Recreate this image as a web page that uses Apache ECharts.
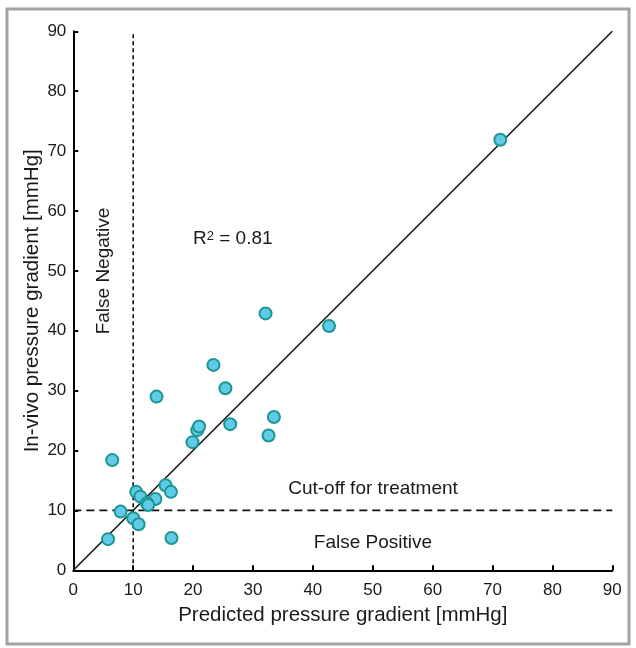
<!DOCTYPE html>
<html>
<head>
<meta charset="utf-8">
<script src="https://cdn.jsdelivr.net/npm/echarts@6/dist/echarts.min.js"></script>
<style>
  html, body { margin: 0; padding: 0; background: #fff; }
  #chart { width: 636px; height: 648px; }
</style>
</head>
<body>
<div id="chart"></div>
<script>
const predicted = [5.8, 7.9, 10.0, 10.9, 16.4, 10.5, 11.2, 13.7, 12.3, 12.5, 15.4, 16.3, 6.5,
  19.9, 20.7, 21.0, 26.2, 32.6, 33.5, 13.9, 25.4, 23.4, 32.1, 42.7, 71.3];
const invivo = [5.2, 9.8, 8.7, 7.7, 5.4, 13.1, 12.3, 11.9, 11.2, 10.9, 14.2, 13.1, 18.4,
  21.4, 23.4, 24.0, 24.4, 22.5, 25.6, 29.0, 30.4, 34.3, 42.9, 40.8, 71.9];
const axisMin = 0;
const axisMax = 90;
const tickStep = 10;
const cutoff = 10;

const points = predicted.map((x, i) => [x, invivo[i]]);
const font = 'Liberation Sans, Arial, Helvetica, sans-serif';

const chart = echarts.init(document.getElementById('chart'), null, { renderer: 'canvas' });

chart.setOption({
  animation: false,
  backgroundColor: '#fff',
  grid: { left: 73.3, right: 23.7, top: 31.3, bottom: 77.7, containLabel: false },
  xAxis: {
    type: 'value', min: axisMin, max: axisMax, interval: tickStep,
    name: 'Predicted pressure gradient [mmHg]',
    nameLocation: 'middle', nameGap: 35, nameMoveOverlap: false,
    nameTextStyle: { fontFamily: font, fontSize: 20.5, color: '#1a1a1a' },
    axisLine: { show: true, lineStyle: { color: '#000', width: 2 } },
    axisTick: { show: true, inside: true, length: 5, lineStyle: { color: '#000', width: 2 } },
    axisLabel: { fontFamily: font, fontSize: 17, color: '#1a1a1a', margin: 12 },
    splitLine: { show: false }
  },
  yAxis: {
    type: 'value', min: axisMin, max: axisMax, interval: tickStep,
    name: 'In-vivo pressure gradient [mmHg]',
    nameLocation: 'middle', nameGap: 30, nameMoveOverlap: false,
    nameTextStyle: { fontFamily: font, fontSize: 20.5, color: '#1a1a1a' },
    axisLine: { show: true, lineStyle: { color: '#000', width: 2 } },
    axisTick: { show: true, inside: true, length: 5, lineStyle: { color: '#000', width: 2 } },
    axisLabel: { fontFamily: font, fontSize: 17, color: '#1a1a1a', margin: 7 },
    splitLine: { show: false }
  },
  series: [
    {
      // line of identity
      type: 'line', silent: true, symbol: 'none', z: 2,
      data: [[axisMin, axisMin], [axisMax, axisMax]],
      lineStyle: { color: '#111', width: 1.5 }
    },
    {
      // treatment cut-off
      type: 'line', silent: true, symbol: 'none', z: 2,
      data: [[axisMin, cutoff], [axisMax, cutoff]],
      lineStyle: { color: '#111', width: 1.6, type: [8, 5] }
    },
    {
      type: 'line', silent: true, symbol: 'none', z: 2,
      data: [[cutoff, axisMin], [cutoff, axisMax]],
      lineStyle: { color: '#111', width: 1.6, type: [4, 3] }
    },
    {
      type: 'scatter', z: 5,
      data: points,
      symbolSize: 12,
      itemStyle: { color: '#60cbe8', borderColor: '#1b9692', borderWidth: 2, opacity: 1 }
    }
  ],
  graphic: [
    {
      type: 'rect', silent: true, z: 0,
      shape: { x: 7, y: 9, width: 622, height: 635 },
      style: { fill: 'none', stroke: '#a3a3a3', lineWidth: 3 }
    },
    {
      type: 'text', x: 193, y: 239,
      style: {
        text: '{a|R}{s|2}{a| = 0.81}',
        textAlign: 'left', textVerticalAlign: 'middle', fill: '#1a1a1a',
        rich: {
          a: { fontFamily: font, fontSize: 19, fill: '#1a1a1a', lineHeight: 19 },
          s: { fontFamily: font, fontSize: 13, fill: '#1a1a1a', verticalAlign: 'top', lineHeight: 12 }
        }
      }
    },
    {
      type: 'text', x: 104, y: 271, rotation: Math.PI / 2,
      style: { text: 'False Negative', font: '19px ' + font, fill: '#1a1a1a', textAlign: 'center', textVerticalAlign: 'middle' }
    },
    {
      type: 'text', x: 373, y: 489,
      style: { text: 'Cut-off for treatment', font: '19px ' + font, fill: '#1a1a1a', textAlign: 'center', textVerticalAlign: 'middle' }
    },
    {
      type: 'text', x: 373, y: 543,
      style: { text: 'False Positive', font: '19px ' + font, fill: '#1a1a1a', textAlign: 'center', textVerticalAlign: 'middle' }
    }
  ]
});
</script>
</body>
</html>
